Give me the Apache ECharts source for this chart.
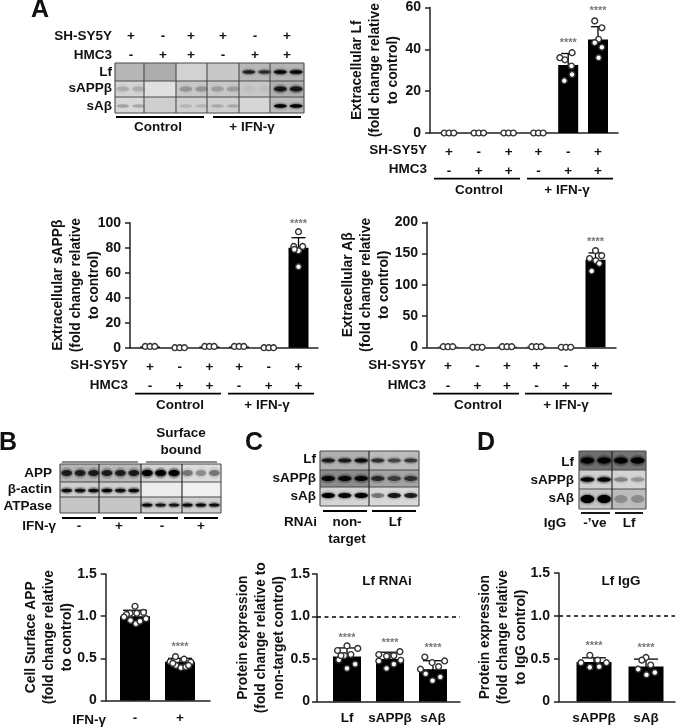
<!DOCTYPE html>
<html><head><meta charset="utf-8">
<style>html,body{margin:0;padding:0;background:#fff}#c{width:685px;height:728px;filter:blur(.4px)}</style>
<script src="https://cdn.jsdelivr.net/npm/echarts@6/dist/echarts.min.js"></script>
</head><body><div id="c"></div>
<script>
// ---------- data ----------
const shsy5y = ['+','-','+','+','-','+'];
const hmc3   = ['-','+','+','-','+','+'];
const groupNames = ['Control','+ IFN-γ'];

const lfMeans = [0,0,0,0,32.5,44.7];
const lfErrTop = [[4,38],[5,50.8]];
const lfStars = [[4,44],[5,59.5]];
const lfDots = [[-.16,0],[0,0],[.16,0],[.84,0],[1,0],[1.16,0],[1.84,0],[2,0],[2.16,0],[2.84,0],[3,0],[3.16,0],
  [3.72,36],[3.89,35],[4.13,38.4],[4.11,32],[4.13,28],[3.87,25],
  [4.89,53.6],[5.13,50.3],[5.02,44.8],[4.89,43.2],[5.13,41],[5.02,36]];

const sappMeans = [1,0,1,1,0,80];
const sappErrTop = [[5,88]];
const sappStars = [[5,100.8]];
const sappDots = [[-.16,1],[0,1],[.16,1],[.84,0],[1,0],[1.16,0],[1.84,1],[2,1],[2.16,1],[2.84,1],[3,1],[3.16,1],[3.84,0],[4,0],[4.16,0],
  [5,92.8],[4.84,81],[5.14,81],[5,77.6],[4.86,78.7],[5,64.8]];

const abMeans = [1,0,1,1,0,140];
const abErrTop = [[5,151]];
const abStars = [[5,172]];
const abDots = [[-.16,1],[0,1],[.16,1],[.84,0],[1,0],[1.16,0],[1.84,1],[2,1],[2.16,1],[2.84,1],[3,1],[3.16,1],[3.84,0],[4,0],[4.16,0],
  [5,154.7],[5.21,146.7],[4.8,142],[5.01,138.7],[5.13,134],[4.87,122]];

const csMeans = [1.0,0.46];
const csLabels = ['-','+'];
const csErrTop = [[0,1.07],[1,0.50]];
const csStars = [[1,0.66]];
const csDots = [[0,1.117],[-.11,1.034],[.04,1.034],[.19,1.045],[-.19,1.02],[-.245,.99],[-.1,.95],[.245,.97],[.02,.91],[.11,.94],
  [.9,.52],[1.09,.49],[.78,.46],[1.24,.455],[.91,.417],[1.02,.39],[1.13,.40],[.84,.44],[1.19,.417]];

const rnaiMeans = [0.53,0.50,0.38];
const rnaiLabels = ['Lf','sAPPβ','sAβ'];
const rnaiErrTop = [[0,.63],[1,.58],[2,.48]];
const rnaiStars = [[0,.77],[1,.71],[2,.655]];
const rnaiDots = [[0,.655],[-.22,.6],[.25,.625],[.09,.553],[-.06,.54],[-.19,.49],[.19,.44],[0,.39],[-.14,.54],
  [1.23,.587],[.74,.553],[.92,.534],[1.09,.54],[1.25,.485],[.74,.477],[1.09,.44],[.92,.39],
  [1.81,.523],[1.98,.458],[2.27,.477],[2.13,.41],[1.71,.38],[1.83,.326],[2.17,.288],[1.99,.246]];

const iggMeans = [0.46,0.41];
const iggLabels = ['sAPPβ','sAβ'];
const iggErrTop = [[0,.51],[1,.495]];
const iggStars = [[0,.674],[1,.643]];
const iggDots = [[-.08,.54],[-.25,.453],[.07,.483],[.24,.453],[-.08,.40],[.1,.407],
  [1,.514],[.92,.483],[1.09,.426],[.85,.377],[1.17,.339],[1.01,.312]];

// blot band intensities per lane, background grey per pane
const blotALf   = [0,0,0,0,0,0,0,0,.7,.62,.9,.9];
const blotASapp = [.14,.14,0,0,.2,.2,.17,.17,.03,.03,.75,.75];
const blotASab  = [.22,.2,0,0,.12,.12,.16,.16,0,0,1,1];
const blotBApp  = [.7,.7,.72,.7,.7,.72,1,1,1,.36,.28,.36];
const blotBAct  = [.85,.85,.85,.9,.85,.9,0,0,0,0,0,0];
const blotBAtp  = [0,0,0,0,0,0,.9,.8,.8,.9,.9,.85];
const blotCLf   = [.72,.72,.85,.6,.5,.58];
const blotCSapp = [.85,.85,.85,.62,.5,.58];
const blotCSab  = [1,.92,1,.38,.8,.75];
const blotDLf   = [.95,.95,.95,.95];
const blotDSapp = [.9,.88,.3,.24];
const blotDSab  = [1,1,.22,.22];

// ---------- helpers ----------
const FF = '"Liberation Sans", Arial, sans-serif';
const INK = '#111';
const grids=[], xAxes=[], yAxes=[], series=[], graphic=[];

function txt(s,x,y,align,size){
  graphic.push({type:'text',x:x,y:y,z:20,style:{text:s,fill:INK,font:'bold '+(size||13.5)+'px '+FF,textAlign:align||'center',textVerticalAlign:'middle'}});
}
function hline(x1,x2,y,w){
  graphic.push({type:'line',z:20,shape:{x1:x1,y1:y,x2:x2,y2:y},style:{stroke:'#000',lineWidth:w||1.8}});
}
function panel(o){
  const k=grids.length;
  grids.push({left:o.l,top:o.t,width:o.r-o.l,height:o.b-o.t,containLabel:false});
  xAxes.push({type:'value',gridIndex:k,min:(o.l-o.xc)/o.dx,max:(o.r-o.xc)/o.dx,splitLine:{show:false},
    axisLine:{onZero:false,lineStyle:{color:'#222',width:1.5}},axisTick:{show:false},
    axisLabel:{customValues:o.means.map((_,i)=>i),formatter:v=>o.xl[v],margin:o.xm,color:INK,
      fontFamily:FF,fontWeight:'bold',fontSize:o.xs||13.5,lineHeight:o.xlh||19.5,hideOverlap:false}});
  yAxes.push({type:'value',gridIndex:k,min:0,max:o.max,interval:o.iv,splitLine:{show:false},
    name:o.name,nameLocation:'middle',nameGap:o.gap,nameRotate:90,nameMoveOverlap:false,
    nameTextStyle:{color:INK,fontFamily:FF,fontWeight:'bold',fontSize:13.8,lineHeight:18,padding:o.npad||0},
    axisLine:{show:true,onZero:false,lineStyle:{color:'#222',width:1.5}},axisTick:{show:true,length:5,lineStyle:{color:'#222',width:1.5}},
    axisLabel:{margin:o.ym||9,color:INK,fontFamily:FF,fontWeight:'bold',fontSize:14,
      formatter:v=>o.iv<1&&v!==0?v.toFixed(1):String(v)}});
  const bar={type:'bar',xAxisIndex:k,yAxisIndex:k,barWidth:o.bw,itemStyle:{color:'#000'},clip:false,z:2,
    data:o.means.map((m,i)=>[i,m])};
  if(o.dash) bar.markLine={silent:true,symbol:'none',label:{show:false},animation:false,
    lineStyle:{color:'#000',type:[4,3.5],width:1.6},data:[{yAxis:1}]};
  series.push(bar);
  series.push({type:'custom',xAxisIndex:k,yAxisIndex:k,z:3,clip:false,data:o.err,
    renderItem:(p,api)=>{
      const a=api.coord([api.value(0),0]), t=api.coord([api.value(0),api.value(1)]), c=o.cap;
      return {type:'group',children:[
        {type:'line',shape:{x1:t[0],y1:t[1],x2:t[0],y2:a[1]},style:{stroke:'#000',lineWidth:1.3}},
        {type:'line',shape:{x1:t[0]-c,y1:t[1],x2:t[0]+c,y2:t[1]},style:{stroke:'#000',lineWidth:1.3}}]};
    }});
  series.push({type:'scatter',xAxisIndex:k,yAxisIndex:k,z:4,clip:false,data:o.dots,symbol:'circle',symbolSize:5.8,
    itemStyle:{color:'#fff',borderColor:'#333',borderWidth:1.4,opacity:1}});
  series.push({type:'scatter',xAxisIndex:k,yAxisIndex:k,z:5,clip:false,data:o.stars,symbol:'circle',symbolSize:1,
    itemStyle:{color:'transparent'},label:{show:true,position:'inside',offset:[0,2],formatter:'****',color:'#555',fontFamily:FF,fontWeight:'bold',fontSize:11}});
}
function plusMinus(i){return shsy5y[i]+'\n'+hmc3[i];}
const pmLabels=shsy5y.map((_,i)=>plusMinus(i));

function blot(o){
  const xs=o.xs, ys=o.ys;
  const W=xs[xs.length-1]-xs[0];
  o.rows.forEach((row,r)=>{
    const y0=ys[r],y1=ys[r+1];
    for(let p=0;p<xs.length-1;p++){
      const g=row.bg[p];
      graphic.push({type:'rect',z:5,shape:{x:xs[p],y:y0,width:xs[p+1]-xs[p],height:y1-y0},style:{fill:g}});
    }
    const n=row.lanes.length, laneW=W/n;
    row.lanes.forEach((v,i)=>{
      if(v<=0) return;
      const cx=xs[0]+(i+.5)*laneW, cy=(y0+y1)/2+(row.off||0);
      const c='rgba(0,0,0,'+Math.min(1,v).toFixed(2)+')';
      graphic.push({type:'ellipse',z:6,shape:{cx:cx,cy:cy,rx:laneW*.40,ry:row.th/2},
        style:{fill:c,shadowBlur:3,shadowColor:c}});
      if(row.halo) graphic.push({type:'ellipse',z:6,shape:{cx:cx,cy:cy,rx:laneW*.46,ry:row.th*.95},
        style:{fill:'rgba(0,0,0,'+(v*.18).toFixed(2)+')',shadowBlur:3,shadowColor:'rgba(0,0,0,.1)'}});
    });
  });
  const bd='#4a4a4a';
  ys.forEach(y=>graphic.push({type:'line',z:7,shape:{x1:xs[0],y1:y,x2:xs[xs.length-1],y2:y},style:{stroke:bd,lineWidth:1.1}}));
  xs.forEach((x,i)=>graphic.push({type:'line',z:7,shape:{x1:x,y1:ys[0],x2:x,y2:ys[ys.length-1]},style:{stroke:(o.vdark&&i>0&&i<xs.length-1)?'#222':bd,lineWidth:1.1}}));
}

// ---------- panels ----------
panel({l:430,r:618,t:7.5,b:133,xc:449,dx:29.8,max:60,iv:20,means:lfMeans,err:lfErrTop,stars:lfStars,dots:lfDots,
  xl:pmLabels,xm:9.5,bw:20,cap:7,gap:28,name:'Extracellular Lf\n(fold change relative\nto control)'});
panel({l:130,r:318,t:222.7,b:347.7,xc:150,dx:29.7,max:100,iv:20,means:sappMeans,err:sappErrTop,stars:sappStars,dots:sappDots,
  xl:pmLabels,xm:9.5,bw:20,cap:7,gap:27,name:'Extracellular sAPPβ\n(fold change relative\nto control)'});
panel({l:427,r:616,t:222.3,b:347.3,xc:448,dx:29.5,max:200,iv:50,means:abMeans,err:abErrTop,stars:abStars,dots:abDots,
  xl:pmLabels,xm:9.5,bw:20,cap:7,gap:34,name:'Extracellular Aβ\n(fold change relative\nto control)'});
panel({l:105.7,r:210,t:574,b:706,xc:135,dx:45,max:1.5,iv:.5,means:csMeans,err:csErrTop,stars:csStars,dots:csDots,
  xl:csLabels,xm:8,bw:30,cap:12,gap:30,name:'Cell Surface APP\n(fold change relative\nto control)'});
panel({l:317,r:460,t:574,b:706,xc:347,dx:43,max:1.5,iv:.5,means:rnaiMeans,err:rnaiErrTop,stars:rnaiStars,dots:rnaiDots,
  xl:rnaiLabels,xm:7,ym:7,bw:28,cap:10,gap:29,dash:true,name:'Protein expression\n(fold change relative to\nnon-target control)'});
panel({l:559,r:675,t:573,b:704,xc:594,dx:52,max:1.5,iv:.5,means:iggMeans,err:iggErrTop,stars:iggStars,dots:iggDots,
  xl:iggLabels,xm:7,bw:35,cap:12,gap:29,dash:true,name:'Protein expression\n(fold change relative\nto IgG control)'});

// A chart annotations
function rowsAndGroups(rx,y1,y2,ly,a,b,c,d,cc,ci,ty){
  txt('SH-SY5Y',rx,y1,'right'); txt('HMC3',rx,y2,'right');
  hline(a,b,ly); hline(c,d,ly);
  txt(groupNames[0],cc,ty); txt(groupNames[1],ci,ty);
}
rowsAndGroups(427,150,169,178.7,434,520,527,613,479,567,190);
rowsAndGroups(128,365,385,393.7,135,221,228,314,180,267,405.5);
rowsAndGroups(426,365,385,393.7,433,519,525,612,478,566,405.5);

// Panel letters
txt('A',40,10,'center',25); txt('B',8,443,'center',25); txt('C',254,443,'center',25); txt('D',486,443,'center',25);

// Panel A blot
rowsAndGroups(112,36,55,117,116,204,213,301,158,252,127);
[131,163,191,223,255,287].forEach((x,i)=>{txt(shsy5y[i],x,36);txt(hmc3[i],x,55);});
txt('Lf',112,72,'right');txt('sAPPβ',112,88,'right');txt('sAβ',112,106,'right');
blot({xs:[115,144,176,207,239,270,304],ys:[63,81,97,113],rows:[
  {bg:['#b6b6b6','#adadad','#d2d2d2','#c8c8c8','#b8b8b8','#b4b4b4'],lanes:blotALf,th:3.6,halo:true},
  {bg:['#d4d4d4','#e0e0e0','#c8c8c8','#c8c8c8','#c8c8c8','#b0b0b0'],lanes:blotASapp,th:5,halo:true},
  {bg:['#d8d8d8','#cfcfcf','#d0d0d0','#cfcfcf','#d6d6d6','#bdbdbd'],lanes:blotASab,th:3.4,off:1}]});

// Panel B blot
txt('APP',52,473,'right');txt('β-actin',52,489,'right');txt('ATPase',52,506,'right');
txt('Surface',181,433);txt('bound',181,450);
hline(62,138,462,.9);hline(146,217,462,.9);
[[62,96],[103,137],[144,178],[184,218]].forEach(a=>hline(a[0],a[1],518));
txt('IFN-γ',56,526,'right');
[[79,'-'],[119,'+'],[162,'-'],[201,'+']].forEach(a=>txt(a[1],a[0],526));
blot({xs:[60,99,141,182,221],ys:[464,482,497,513],vdark:true,rows:[
  {bg:['#b4b4b4','#b8b8b8','#d2d2d2','#dcdcdc'],lanes:blotBApp,th:6,halo:true},
  {bg:['#cfcfcf','#cfcfcf','#ececec','#f0f0f0'],lanes:blotBAct,th:3.6,halo:true,off:1},
  {bg:['#c6c6c6','#c6c6c6','#d0d0d0','#d0d0d0'],lanes:blotBAtp,th:3.2,halo:true}]});
txt('IFN-γ',106,720,'right');

// Panel C blot
txt('Lf',316,459,'right');txt('sAPPβ',316,478,'right');txt('sAβ',316,496,'right');
hline(323,367,511);hline(372,416,511);
txt('RNAi',317,522,'right');txt('non-',347,522);txt('target',347,539);txt('Lf',395,522);
blot({xs:[320,369,419],ys:[451,470,487,506],vdark:true,rows:[
  {bg:['#b0b0b0','#bcbcbc'],lanes:blotCLf,th:4,halo:true},
  {bg:['#8c8c8c','#a4a4a4'],lanes:blotCSapp,th:5,halo:true},
  {bg:['#d4d4d4','#d8d8d8'],lanes:blotCSab,th:5,off:-1}]});

// Panel D blot
txt('Lf',574,462,'right');txt('sAPPβ',574,480,'right');txt('sAβ',574,498,'right');
hline(581,610,513);hline(615,643,513);
txt('IgG',555,523);txt("-’ve",595,523);txt('Lf',629,523);
blot({xs:[579,612,646],ys:[451,470,489,509],vdark:true,rows:[
  {bg:['#6e6e6e','#747474'],lanes:blotDLf,th:6,halo:true},
  {bg:['#d0d0d0','#d4d4d4'],lanes:blotDSapp,th:4.5,halo:true},
  {bg:['#c6c6c6','#bcbcbc'],lanes:blotDSab,th:8,off:0}]});

// Sub-chart titles
txt('Lf RNAi',387,581);
txt('Lf IgG',621,581);

echarts.init(document.getElementById('c'),null,{renderer:'canvas'}).setOption({
  animation:false,backgroundColor:'#fff',tooltip:{show:false},legend:{show:false},
  grid:grids,xAxis:xAxes,yAxis:yAxes,series:series,graphic:{elements:graphic}
});
</script></body></html>
